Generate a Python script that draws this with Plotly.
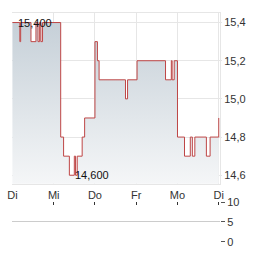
import plotly.graph_objects as go
from plotly.subplots import make_subplots

# ---- data (x in trading days since first "Di") ----
day_ticks = [0, 1, 2, 3, 4, 5]
day_labels = ["Di", "Mi", "Do", "Fr", "Mo", "Di"]
price_ticks = [14.6, 14.8, 15.0, 15.2, 15.4]
volume_ticks = [0, 5, 10]

times = [0.0, 0.18, 0.20, 0.45, 0.57, 0.62, 0.66, 0.69, 0.73,
         1.17, 1.24, 1.38, 1.50, 1.53, 1.57, 1.69, 1.75,
         2.0, 2.06, 2.1, 2.74, 2.79, 3.02, 3.71, 3.85, 3.87, 3.92,
         4.0, 4.17, 4.31, 4.36, 4.42, 4.70, 4.79, 5.0]
prices = [15.4, 15.3, 15.4, 15.3, 15.4, 15.3, 15.4, 15.3, 15.4,
          14.8, 14.7, 14.6, 14.7, 14.6, 14.7, 14.8, 14.9,
          15.3, 15.2, 15.1, 15.0, 15.1, 15.2, 15.1, 15.2, 15.1, 15.2,
          14.8, 14.7, 14.8, 14.7, 14.8, 14.7, 14.8, 14.9]

y_range = [14.555, 15.45]
x_range = [-0.01, 5.03]

fig = make_subplots(rows=2, cols=1, shared_xaxes=False, vertical_spacing=0.0)

fig.add_trace(go.Scatter(
    x=times, y=prices, mode="lines", line_shape="hv",
    line=dict(color="rgb(190,70,70)", width=1),
    fill="tozeroy",
    fillgradient=dict(type="vertical",
                      colorscale=[[0, "rgb(247,248,249)"], [1, "rgb(198,208,216)"]],
                      start=y_range[0], stop=max(prices)),
    hoverinfo="skip", showlegend=False), row=1, col=1)

# invisible trace to create the volume panel
fig.add_trace(go.Scatter(x=[x_range[0]], y=[0], mode="markers", marker=dict(opacity=0),
                         showlegend=False, hoverinfo="skip"), row=2, col=1)

def fmt(v, d):
    return f"{v:.{d}f}".replace(".", ",")

imax = prices.index(max(prices))
imin = prices.index(min(prices))
for i in (imax, imin):
    fig.add_annotation(x=times[i], y=prices[i], xref="x", yref="y",
                       text=fmt(prices[i], 3), showarrow=False,
                       xanchor="left", yanchor="middle", xshift=4,
                       font=dict(size=11, color="#111"))

font = dict(family="Liberation Sans, Arial", size=11, color="#333")

fig.update_layout(
    width=264, height=255, margin=dict(l=8, r=44, t=7, b=8),
    paper_bgcolor="white", plot_bgcolor="white",
    separators=",.", font=font,
    xaxis=dict(domain=[0, 1], range=x_range, tickvals=day_ticks, ticktext=day_labels,
               showgrid=True, gridcolor="#e6e6e6", gridwidth=1, zeroline=False,
               showline=True, mirror=True, linecolor="#e6e6e6", ticks="outside", ticklen=1,
               tickcolor="rgba(0,0,0,0)"),
    yaxis=dict(domain=[0.254, 1.0], range=y_range, side="right", tickvals=price_ticks,
               tickformat=".1f", showgrid=True, gridcolor="#e6e6e6", zeroline=False,
               showline=True, linecolor="#e6e6e6", ticks="outside", ticklen=1,
               tickcolor="#e6e6e6"),
    xaxis2=dict(domain=[0, 1], range=x_range, tickvals=day_ticks, showticklabels=False,
                showgrid=False, zeroline=False, showline=False, side="top",
                ticks="inside", ticklen=3, tickcolor="#333", anchor="y2"),
    yaxis2=dict(domain=[0.0, 0.175], range=[-0.05, 10.05], side="right", tickvals=volume_ticks,
                showgrid=True, gridcolor="#cccccc", zeroline=False, showline=False,
                ticks="outside", ticklen=4, tickcolor="#555", anchor="x2"),
)

fig.write_html("out.html")
